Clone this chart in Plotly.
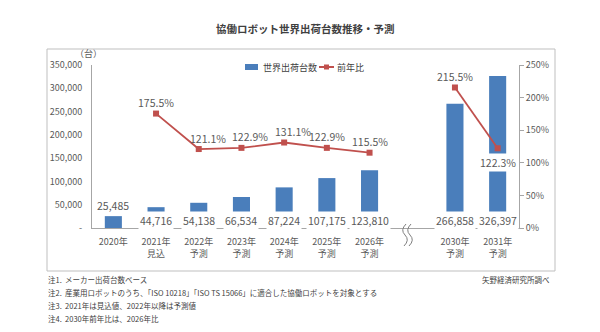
import plotly.graph_objects as go

# ---- data ----
years = ["2020年", "2021年", "2022年", "2023年", "2024年", "2025年", "2026年", "", "2030年", "2031年"]
sublabels = ["", "見込", "予測", "予測", "予測", "予測", "予測", "", "予測", "予測"]
shipments = [25485, 44716, 54138, 66534, 87224, 107175, 123810, None, 266858, 326397]
yoy = [None, 175.5, 121.1, 122.9, 131.1, 122.9, 115.5, None, 215.5, 122.3]
notes = [
    "注1.  メーカー出荷台数ベース",
    "注2.  産業用ロボットのうち、「ISO 10218」「ISO TS 15066」に適合した協働ロボットを対象とする",
    "注3.  2021年は見込値、2022年以降は予測値",
    "注4.  2030年前年比は、2026年比",
]
left_ticks = [0, 50000, 100000, 150000, 200000, 250000, 300000, 350000]
right_ticks = [0, 50, 100, 150, 200, 250]

FONT = "Noto Sans CJK JP"
BLUE = "#4a7ebb"
RED = "#c0504d"
GRAY = "#595959"

L, R, T, B = 92, 519, 65, 228  # plot area in px
W, H = 600, 332


def px(x):
    return (x - L) / (R - L)


def py(y):
    return (B - y) / (B - T)


xs = list(range(len(years)))
ticktext = [f"{y}<br>{s}" if s else y for y, s in zip(years, sublabels)]

fig = go.Figure()
bx = [x for x, v in zip(xs, shipments) if v is not None]
by = [v for v in shipments if v is not None]
fig.add_trace(go.Bar(x=bx, y=by, width=0.4, marker=dict(color=BLUE, line=dict(width=0)),
                     name="世界出荷台数", showlegend=False))
fig.add_trace(go.Scatter(x=xs, y=yoy, yaxis="y2", mode="lines+markers", name="前年比",
                         line=dict(color=RED, width=1.8), connectgaps=False, showlegend=False,
                         marker=dict(symbol="square", size=6, color=RED)))

ann = []
# bar value labels
for x, v in zip(xs, shipments):
    if v is None:
        continue
    if x == 0:
        ann.append(dict(x=x, y=v, yref="y", text=f"{v:,}", showarrow=False, yshift=11,
                        font=dict(size=10.5, color=GRAY, family=FONT)))
    else:
        ann.append(dict(x=x, y=16500, yref="y", text=f"{v:,}", showarrow=False,
                        bgcolor="white", borderpad=1,
                        font=dict(size=10.5, color=GRAY, family=FONT)))
# ratio labels
xshifts = {2: 9, 3: 9, 4: 9}
for x, v in zip(xs, yoy):
    if v is None:
        continue
    below = (x == 9)
    ann.append(dict(x=x, y=v, yref="y2", text=f"{v:.1f}%", showarrow=False,
                    yshift=-14 if below else 11, xshift=xshifts.get(x, 0),
                    bgcolor="white" if below else None,
                    font=dict(size=10.5, color=GRAY, family=FONT)))
# y axis unit
ann.append(dict(x=px(88), y=py(54), xref="paper", yref="paper", text="（台）", showarrow=False,
                xanchor="center", yanchor="middle",
                font=dict(size=9, color=GRAY, family=FONT)))
# title
ann.append(dict(x=0.5, xref="paper", y=py(29), yref="paper",
                xanchor="center", yanchor="middle",
                text="<b>協働ロボット世界出荷台数推移・予測</b>", showarrow=False,
                font=dict(size=10.5, color="#404040", family=FONT)))
# notes
for i, n in enumerate(notes):
    ann.append(dict(x=px(46), y=py(279 + i * 13.3), xref="paper", yref="paper", xanchor="left",
                    yanchor="middle",
                    text=n, showarrow=False, font=dict(size=7.5, color="#404040", family=FONT)))
ann.append(dict(x=px(552), y=py(279), xref="paper", yref="paper", xanchor="right",
                yanchor="middle",
                text="矢野経済研究所調べ", showarrow=False,
                font=dict(size=7.5, color="#404040", family=FONT)))
# manual legend texts
ann.append(dict(x=px(261), y=py(67), xref="paper", yref="paper", xanchor="left", yanchor="middle",
                text="世界出荷台数", showarrow=False, font=dict(size=9, color="#404040", family=FONT)))
ann.append(dict(x=px(335), y=py(67), xref="paper", yref="paper", xanchor="left", yanchor="middle",
                text="前年比", showarrow=False, font=dict(size=9, color="#404040", family=FONT)))

shapes = [
    dict(type="rect", xref="paper", yref="paper", x0=px(47), x1=px(555), y0=py(271), y1=py(49),
         line=dict(color="#bfbfbf", width=1), layer="below"),
    # legend symbols
    dict(type="rect", xref="paper", yref="paper", x0=px(245), x1=px(258), y0=py(70), y1=py(64),
         fillcolor=BLUE, line=dict(width=0)),
    dict(type="line", xref="paper", yref="paper", x0=px(319), x1=px(334), y0=py(67), y1=py(67),
         line=dict(color=RED, width=2)),
    dict(type="rect", xref="paper", yref="paper", x0=px(324), x1=px(329), y0=py(69.5), y1=py(64.5),
         fillcolor=RED, line=dict(width=0)),
]
# break marks
for dx in (0, 5):
    path = (f"M {px(406+dx)},{py(224)} Q {px(400+dx)},{py(230)} {px(405+dx)},{py(235)} "
            f"Q {px(410+dx)},{py(240)} {px(404+dx)},{py(246)}")
    shapes.append(dict(type="path", xref="paper", yref="paper", path=path,
                       line=dict(color="#7f7f7f", width=1)))

fig.update_layout(
    width=W, height=H, margin=dict(l=L, r=W - R, t=T, b=H - B),
    plot_bgcolor="white", paper_bgcolor="white",
    font=dict(family=FONT, color=GRAY, size=9),
    showlegend=False,
    xaxis=dict(range=[-0.5, 9.5], tickvals=xs, ticktext=ticktext, showgrid=False,
               showline=True, linecolor="#a6a6a6", ticks="", zeroline=False,
               ticklabelstandoff=5,
               tickfont=dict(size=9, family=FONT, color=GRAY)),
    yaxis=dict(range=[0, 350000], tickvals=left_ticks,
               ticktext=["-" if t == 0 else f"{t:,}" for t in left_ticks],
               showgrid=False, showline=True, linecolor="#a6a6a6", zeroline=False,
               ticklabelstandoff=7,
               tickfont=dict(size=9, family=FONT, color=GRAY), ticks=""),
    yaxis2=dict(range=[0, 250], overlaying="y", side="right", tickvals=right_ticks,
                ticktext=[f"{t}%" for t in right_ticks], showgrid=False, showline=True,
                linecolor="#a6a6a6", ticks="outside", ticklen=4, tickcolor="#a6a6a6",
                zeroline=False, tickfont=dict(size=9, family=FONT, color=GRAY)),
    annotations=ann, shapes=shapes,
)

fig.write_html("out.html")
